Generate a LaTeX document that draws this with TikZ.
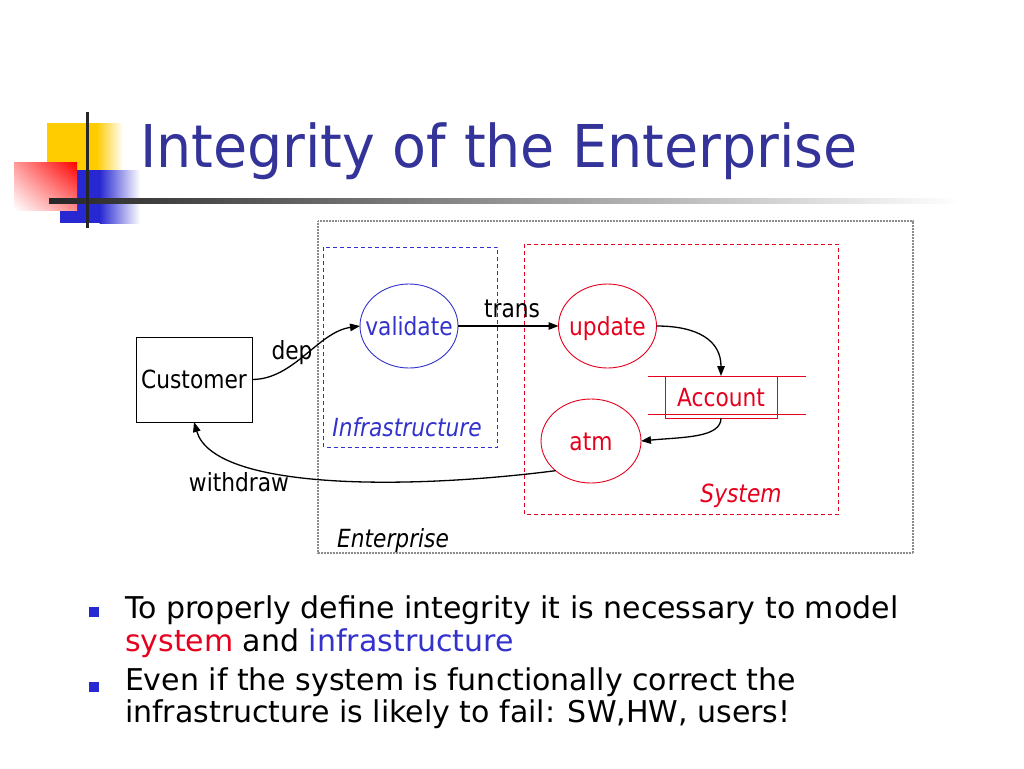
\documentclass[tikz,border=0pt]{standalone}
\usepackage{fontspec}
\setmainfont[FakeStretch=0.87]{DejaVu Sans}
\newfontfamily\bodyfont{DejaVu Sans}
\newfontfamily\titlefont[FakeStretch=0.94]{DejaVu Sans}
\usetikzlibrary{shapes.geometric,arrows.meta,shadings}
\definecolor{titleblue}{RGB}{51,51,153}
\definecolor{dblue}{RGB}{51,51,204}
\definecolor{dred}{RGB}{230,0,30}
\definecolor{egray}{RGB}{140,140,140}
\definecolor{logoyellow}{RGB}{255,204,0}
\definecolor{logoblue}{RGB}{40,40,210}
\begin{document}
\begin{tikzpicture}[x=1pt,y=-1pt,
  every node/.style={inner sep=0pt, outer sep=0pt},
  dfont/.style={font=\fontsize{25}{30}\selectfont},
  lbl/.style={dfont, anchor=base},
  ilbl/.style={font=\fontsize{25}{30}\selectfont\itshape, anchor=base},
  proc/.style={ellipse, draw, line width=0.9pt, minimum width=98pt, minimum height=84pt, dfont, text height=18.2pt, text depth=0pt},
  boxnode/.style={draw, line width=0.9pt, dfont, text height=18.2pt, text depth=0pt},
  flow/.style={draw=black, line width=1.3pt, -{Triangle[length=10pt,width=7.5pt]}},
  bul/.style={font=\bodyfont\fontsize{30}{33}\selectfont, anchor=base west},
  region/.style={line width=1pt, dash pattern=on 4pt off 3pt}
]
\useasboundingbox (0,0) rectangle (1024,768);
\fill[white] (0,0) rectangle (1024,768);

% logo
\fill[logoyellow] (47,123) rectangle (97,172);
\shade[left color=logoyellow, right color=white] (96.5,123) rectangle (123,172);
\fill[logoblue] (60,170) rectangle (100,223);
\shade[left color=logoblue, right color=white] (99.5,170) rectangle (140,223);
\shade[upper left=red!40!white, upper right=red, lower left=white, lower right=red!45!white] (14,162) rectangle (77,210);
\shade[left color=black!85, right color=white] (49,198) rectangle (960,203);
\draw[line width=3pt, black!85] (87,112) -- (87,228);

% title
\node[anchor=base west, font=\titlefont\fontsize{59}{70}\selectfont, text=titleblue] (title) at (140,167) {Integrity of the Enterprise};

% regions
\draw[egray, line width=1.2pt, dash pattern=on 1pt off 0.5pt] (318,221) rectangle (913,553);
\draw[dblue, region] (323.5,247) rectangle (497.5,447);
\draw[dred, region] (524,244) rectangle (838.5,514);

% nodes
\node[boxnode, minimum width=116pt, minimum height=85pt] (cust) at (194,379.5) {Customer};
\node[proc, draw=dblue, text=dblue] (val) at (409,326) {\makebox[0pt]{validate}};
\node[proc, draw=dred, text=dred] (upd) at (607.5,326) {\makebox[0pt]{update}};
\node[proc, draw=dred, text=dred, minimum width=100pt] (atm) at (591,441) {\makebox[0pt]{atm}};
\node[boxnode, draw=dred, text=dred, minimum width=112pt, minimum height=42pt] (acc) at (721,397) {Account};
\draw[dred, line width=0.9pt] ([xshift=-73pt]acc.north) -- ([xshift=85pt]acc.north);
\draw[dred, line width=0.9pt] ([xshift=-73pt,yshift=4pt]acc.south) -- ([xshift=85pt,yshift=4pt]acc.south);

% connectors
\draw[flow] (cust.east) .. controls +(42,0) and +(-42,6) .. (val.west);
\draw[flow] (val.east) -- (upd.west);
\draw[flow] (upd.east) .. controls +(42,0) and +(0,-35) .. (acc.north);
\draw[flow] (acc.south) .. controls +(0,20) and +(42,-4) .. (atm.east);
\draw[flow] (atm.220) .. controls (405,490) and (214,490) .. (cust.south);

% labels
\node[lbl] (ldep) at (292,359) {dep};
\node[lbl] (ltrans) at (512,317) {trans};
\node[lbl] (lwd) at (239,491) {withdraw};
\node[ilbl, text=dblue] (linfra) at (407,436) {Infrastructure};
\node[ilbl, text=dred] (lsys) at (741,502) {System};
\node[ilbl] (lent) at (393,547) {Enterprise};

% bullets
\fill[logoblue] (89,607) rectangle (99,617);
\fill[logoblue] (89,682) rectangle (99,692);
\node[bul] (b1a) at (125,618) {To properly define integrity it is necessary to model};
\node[bul] (b1b) at (125,651) {\textcolor{dred}{system} and \textcolor{dblue}{infrastructure}};
\node[bul] (b2a) at (125,690) {Even if the system is functionally correct the};
\node[bul] (b2b) at (125,722) {infrastructure is likely to fail: SW,HW, users!};
\end{tikzpicture}
\end{document}
